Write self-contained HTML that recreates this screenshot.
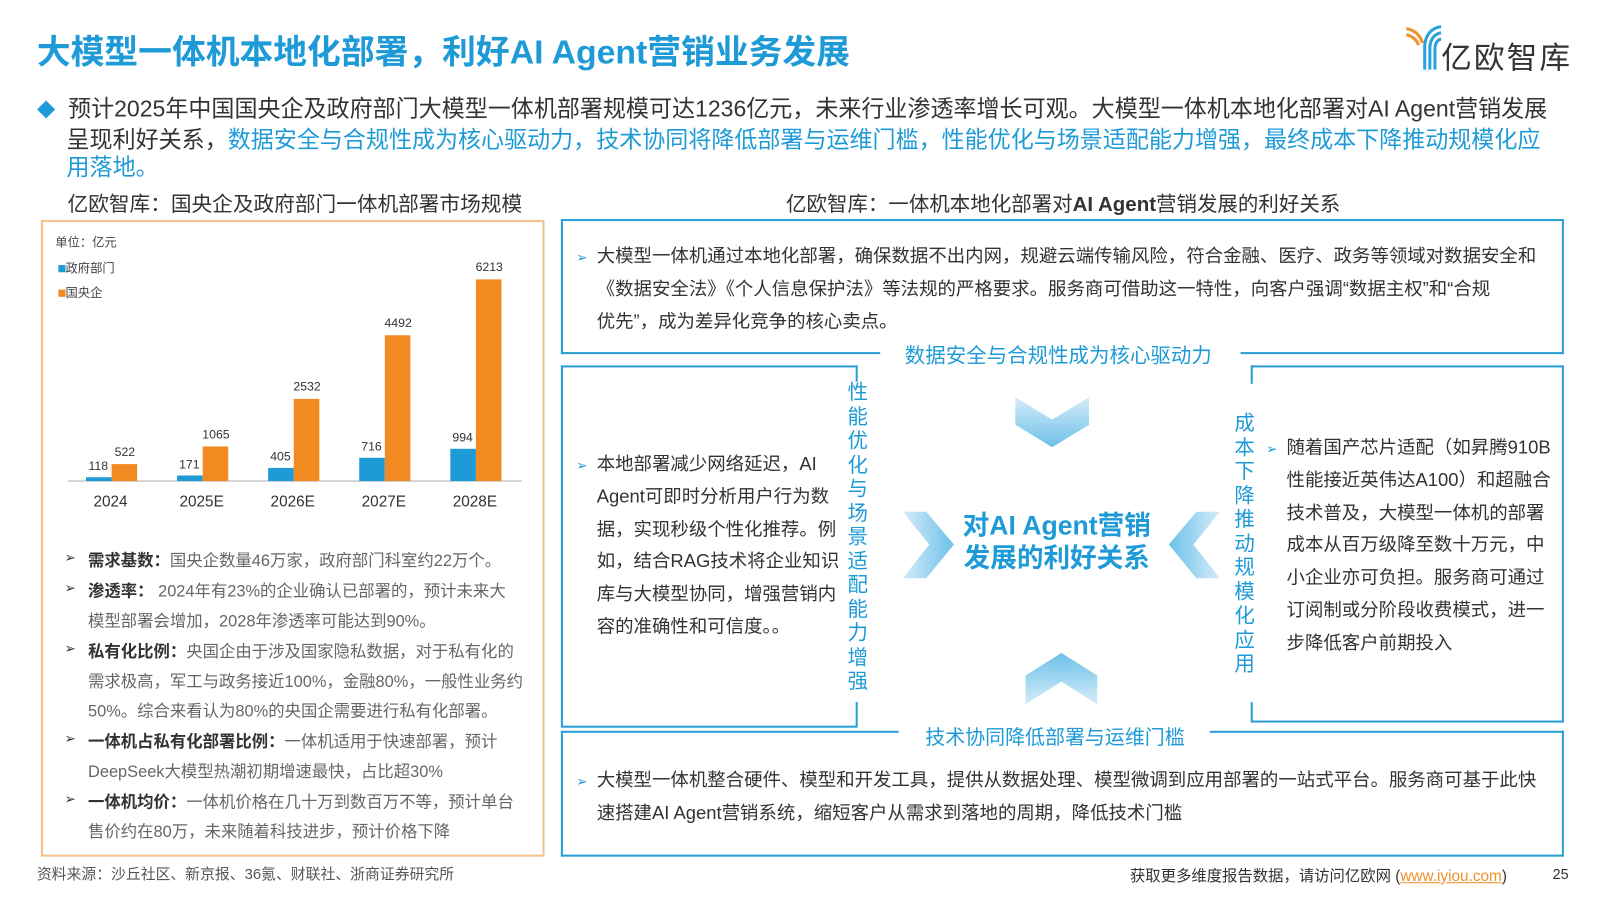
<!DOCTYPE html>
<html><head><meta charset="utf-8">
<style>
*{margin:0;padding:0;box-sizing:border-box}
body{width:1600px;height:900px;background:#fff;position:relative;overflow:hidden;font-family:"Liberation Sans","Noto Sans CJK SC",sans-serif;color:#333}
#root{position:absolute;left:0;top:0;width:1563px;height:880px;transform:scale(1.0235);transform-origin:0 0}
.a{position:absolute}
.blue{color:#1e9bd7}
.ln{position:absolute;background:#2a9fd6}
.lt p{position:absolute;left:86px;font-size:16px;color:#666;white-space:nowrap}
.lt b{color:#333}
.arr{position:absolute;font-size:13px;color:#333}
.rt{font-size:18px;color:#333;line-height:31.8px;white-space:nowrap}
.rt .bu{position:absolute;left:0;top:0;font-size:13px;color:#1e9bd7}
.vt{position:absolute;width:22px;font-size:20px;line-height:23.5px;color:#1e9bd7;text-align:center}
</style></head><body><div id="root">
<div class="a blue" style="left:36px;top:24px;font-size:33px;font-weight:bold;white-space:nowrap">大模型一体机本地化部署，利好AI Agent营销业务发展</div>
<div class="a" style="left:1372px;top:24px;width:170px;height:46px">
<svg width="40" height="46" class="a" style="left:0;top:0"><path d="M2 4 Q14 6 18 18" stroke="#f0902a" stroke-width="3" fill="none"/><path d="M2 10 Q11 12 14 20" stroke="#f0902a" stroke-width="3" fill="none"/><path d="M36 2 Q22 4 20 20 L20 44" stroke="#2aa3dc" stroke-width="3" fill="none"/><path d="M36 8 Q26 10 25 22 L25 44" stroke="#2aa3dc" stroke-width="3" fill="none"/><path d="M36 14 Q30 16 30 24 L30 44" stroke="#2aa3dc" stroke-width="3" fill="none"/></svg>
<div class="a" style="left:36px;top:8px;font-size:30px;color:#333;letter-spacing:2px;white-space:nowrap">亿欧智库</div></div>
<div class="a" style="left:36px;top:93px;width:1540px;font-size:22.5px;line-height:27.5px;color:#333;white-space:nowrap"><span class="blue" style="font-size:18px">◆</span>&nbsp;&nbsp;预计2025年中国国央企及政府部门大模型一体机部署规模可达1236亿元，未来行业渗透率增长可观。大模型一体机本地化部署对AI Agent营销发展<br><span style="padding-left:29px">呈现利好关系，</span><span class="blue">数据安全与合规性成为核心驱动力，技术协同将降低部署与运维门槛，性能优化与场景适配能力增强，最终成本下降推动规模化应<br><span style="padding-left:29px">用落地。</span></span></div>
<div class="a" style="left:66px;top:183px;font-size:20.2px;color:#333;white-space:nowrap">亿欧智库：国央企及政府部门一体机部署市场规模</div>
<div class="a" style="left:768px;top:183px;font-size:20px;color:#333;white-space:nowrap">亿欧智库：一体机本地化部署对<b>AI Agent</b>营销发展的利好关系</div>
<div class="a" style="left:40px;top:215px;width:492px;height:622px;border:2px solid #f5c08a"></div>
<div class="a" style="left:54px;top:228px;font-size:12px;color:#444">单位：亿元</div>
<div class="a" style="left:57px;top:253px;font-size:12px;color:#444"><span style="display:inline-block;width:7px;height:7px;background:#1e9bd7"></span>政府部门</div>
<div class="a" style="left:57px;top:277px;font-size:12px;color:#444"><span style="display:inline-block;width:7px;height:7px;background:#f18a21"></span>国央企</div>
<svg id="chart" class="a" style="left:0;top:0" width="540" height="510"></svg>
<script>
const categories=["2024","2025E","2026E","2027E","2028E"];
const govValues=[118,171,405,716,994];
const soeValues=[522,1065,2532,4492,6213];
const svg=document.getElementById('chart');const NS='http://www.w3.org/2000/svg';
const base=470,top0=273,maxV=6213;
function y(v){return base-(base-top0)*v/maxV;}
function xc(i){return 109+i*89;}
function mk(t,a){const e=document.createElementNS(NS,t);for(const k in a)e.setAttribute(k,a[k]);svg.appendChild(e);return e;}
const ax=mk('line',{x1:66,x2:510,y1:base,y2:base,stroke:'#ccc','stroke-width':1.5});


categories.forEach((c,i)=>{
const b1=mk('rect',{x:xc(i)-25,y:y(govValues[i]),width:25,height:base-y(govValues[i]),fill:'#1e9bd7'});


const b2=mk('rect',{x:xc(i),y:y(soeValues[i]),width:25,height:base-y(soeValues[i]),fill:'#f18a21'});


const t1=mk('text',{x:xc(i)-13,y:y(govValues[i])-7,'font-size':12,'text-anchor':'middle',fill:'#333'});t1.textContent=govValues[i];


const t2=mk('text',{x:xc(i)+13,y:y(soeValues[i])-8,'font-size':12,'text-anchor':'middle',fill:'#333'});t2.textContent=soeValues[i];


const tl=mk('text',{x:xc(i)-1,y:495,'font-size':15,'text-anchor':'middle',fill:'#333'});tl.textContent=c;


});
</script>
<div class="lt">
<span class="arr" style="left:63px;top:537px">➢</span><p style="top:534px"><b>需求基数：</b>国央企数量46万家，政府部门科室约22万个。</p>
<span class="arr" style="left:63px;top:567px">➢</span><p style="top:564px"><b>渗透率：</b> 2024年有23%的企业确认已部署的，预计未来大</p>
<p style="top:593px">模型部署会增加，2028年渗透率可能达到90%。</p>
<span class="arr" style="left:63px;top:626px">➢</span><p style="top:623px"><b>私有化比例：</b>央国企由于涉及国家隐私数据，对于私有化的</p>
<p style="top:652px">需求极高，军工与政务接近100%，金融80%，一般性业务约</p>
<p style="top:681px">50%。综合来看认为80%的央国企需要进行私有化部署。</p>
<span class="arr" style="left:63px;top:714px">➢</span><p style="top:711px"><b>一体机占私有化部署比例：</b>一体机适用于快速部署，预计</p>
<p style="top:740px">DeepSeek大模型热潮初期增速最快，占比超30%</p>
<span class="arr" style="left:63px;top:773px">➢</span><p style="top:770px"><b>一体机均价：</b>一体机价格在几十万到数百万不等，预计单台</p>
<p style="top:799px">售价约在80万，未来随着科技进步，预计价格下降</p>
</div>
<div class="ln" style="left:548px;top:214px;width:980px;height:2px"></div>
<div class="ln" style="left:548px;top:214px;width:2px;height:132px"></div>
<div class="ln" style="left:1526px;top:214px;width:2px;height:132px"></div>
<div class="ln" style="left:548px;top:344px;width:312px;height:2px"></div>
<div class="ln" style="left:1212px;top:344px;width:316px;height:2px"></div>
<div class="ln" style="left:548px;top:357px;width:290px;height:2px"></div>
<div class="ln" style="left:548px;top:357px;width:2px;height:353px"></div>
<div class="ln" style="left:836px;top:357px;width:2px;height:16px"></div>
<div class="ln" style="left:836px;top:686px;width:2px;height:24px"></div>
<div class="ln" style="left:548px;top:709px;width:290px;height:2px"></div>
<div class="ln" style="left:1222px;top:357px;width:306px;height:2px"></div>
<div class="ln" style="left:1526px;top:357px;width:2px;height:348px"></div>
<div class="ln" style="left:1222px;top:357px;width:2px;height:18px"></div>
<div class="ln" style="left:1222px;top:686px;width:2px;height:19px"></div>
<div class="ln" style="left:1222px;top:704px;width:306px;height:2px"></div>
<div class="ln" style="left:548px;top:714px;width:330px;height:2px"></div>
<div class="ln" style="left:1182px;top:714px;width:346px;height:2px"></div>
<div class="ln" style="left:548px;top:714px;width:2px;height:123px"></div>
<div class="ln" style="left:1526px;top:714px;width:2px;height:123px"></div>
<div class="ln" style="left:548px;top:835px;width:980px;height:2px"></div>
<div class="a rt" style="left:563px;top:235px;padding-left:20px"><span class="bu" style="top:1px">➢</span>大模型一体机通过本地化部署，确保数据不出内网，规避云端传输风险，符合金融、医疗、政务等领域对数据安全和<br>《数据安全法》《个人信息保护法》等法规的严格要求。服务商可借助这一特性，向客户强调“数据主权”和“合规<br>优先”，成为差异化竞争的核心卖点。</div>
<div class="a blue" style="left:884px;top:331px;font-size:20px;white-space:nowrap">数据安全与合规性成为核心驱动力</div>
<div class="a rt" style="left:563px;top:438px;padding-left:20px"><span class="bu" style="top:1px">➢</span>本地部署减少网络延迟，AI<br>Agent可即时分析用户行为数<br>据，实现秒级个性化推荐。例<br>如，结合RAG技术将企业知识<br>库与大模型协同，增强营销内<br>容的准确性和可信度。。</div>
<div class="vt" style="left:827px;top:373px">性能优化与场景适配能力增强</div>
<div class="vt" style="left:1205px;top:403px">成本下降推动规模化应用</div>
<div class="a rt" style="left:1237px;top:422px;padding-left:20px"><span class="bu" style="top:1px">➢</span>随着国产芯片适配（如昇腾910B<br>性能接近英伟达A100）和超融合<br>技术普及，大模型一体机的部署<br>成本从百万级降至数十万元，中<br>小企业亦可负担。服务商可通过<br>订阅制或分阶段收费模式，进一<br>步降低客户前期投入</div>
<svg class="a" style="left:870px;top:370px" width="340" height="330">
<defs><linearGradient id="g1" x1="0" y1="0" x2="0" y2="1"><stop offset="0" stop-color="#d5ecf8"/><stop offset="1" stop-color="#6cc0ea"/></linearGradient>
<linearGradient id="g2" x1="0" y1="1" x2="0" y2="0"><stop offset="0" stop-color="#d5ecf8"/><stop offset="1" stop-color="#6cc0ea"/></linearGradient>
<linearGradient id="g3" x1="0" y1="0" x2="1" y2="0"><stop offset="0" stop-color="#d5ecf8"/><stop offset="1" stop-color="#6cc0ea"/></linearGradient>
<linearGradient id="g4" x1="1" y1="0" x2="0" y2="0"><stop offset="0" stop-color="#d5ecf8"/><stop offset="1" stop-color="#6cc0ea"/></linearGradient></defs>
<polygon points="122,18 158,40 194,18 194,45 158,67 122,45" fill="url(#g1)"/>
<polygon points="132,318 167,296 202,318 202,290 167,268 132,290" fill="url(#g2)"/>
<polygon points="12,130 35,130 62,162 35,195 12,195 38,162" fill="url(#g3)"/>
<polygon points="322,130 299,130 272,162 299,195 322,195 296,162" fill="url(#g4)"/>
</svg>
<div class="a blue" style="left:925px;top:497px;width:215px;text-align:center;font-size:26px;line-height:32px;font-weight:bold">对AI Agent营销<br>发展的利好关系</div>
<div class="a blue" style="left:904px;top:704px;font-size:19.5px;white-space:nowrap">技术协同降低部署与运维门槛</div>
<div class="a rt" style="left:563px;top:747px;padding-left:20px"><span class="bu" style="top:1px">➢</span>大模型一体机整合硬件、模型和开发工具，提供从数据处理、模型微调到应用部署的一站式平台。服务商可基于此快<br>速搭建AI Agent营销系统，缩短客户从需求到落地的周期，降低技术门槛</div>
<div class="a" style="left:36px;top:843px;font-size:14.5px;color:#555;white-space:nowrap">资料来源：沙丘社区、新京报、36氪、财联社、浙商证券研究所</div>
<div class="a" style="left:1104px;top:845px;font-size:15px;color:#333;white-space:nowrap">获取更多维度报告数据，请访问亿欧网 (<span style="color:#f0902a;text-decoration:underline">www.iyiou.com</span>)</div>
<div class="a" style="left:1517px;top:846px;font-size:14px;color:#333">25</div>
</div></body></html>
